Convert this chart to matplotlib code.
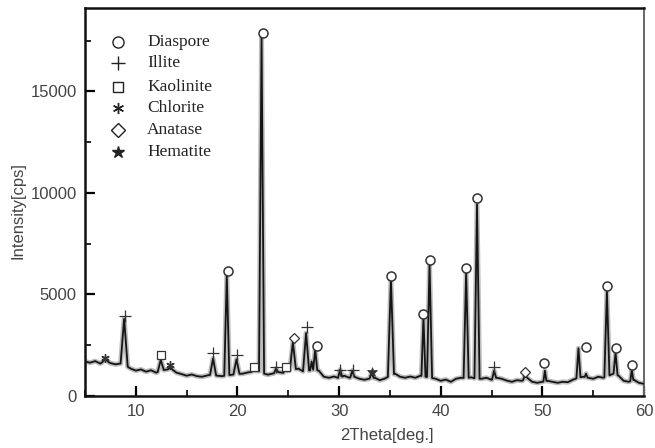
import matplotlib
matplotlib.use("Agg")
import matplotlib.pyplot as plt
import numpy as np

# background of the scan, read every 0.5 deg from 5 to 60
bg_start, bg_step = 5.0, 0.5
bg_counts = [
    1700, 1640, 1720, 1600, 1760, 1620, 1560, 1600, 1500, 1350,   # 5.0 - 9.5
    1250, 1310, 1200, 1270, 1150, 1260, 1300, 1340, 1150, 1080,   # 10.0 - 14.5
    1000, 1060, 980, 950, 1010, 1060, 1000, 980, 1020, 1050,      # 15.0 - 19.5
    1090, 1100, 1160, 1200, 1250, 1120, 1050, 1110, 1180, 1140,   # 20.0 - 24.5
    1250, 1300, 1350, 1200, 1250, 1300, 1250, 950, 900, 960,      # 25.0 - 29.5
    880, 1000, 900, 950, 850, 800, 860, 900, 780, 860,            # 30.0 - 34.5
    1000, 1100, 950, 900, 960, 900, 1000, 950, 900, 850,          # 35.0 - 39.5
    750, 810, 700, 850, 900, 880, 920, 850, 850, 900,             # 40.0 - 44.5
    800, 900, 850, 760, 700, 780, 750, 900, 700, 650,             # 45.0 - 49.5
    700, 750, 700, 650, 700, 680, 800, 900, 950, 900,             # 50.0 - 54.5
    850, 950, 900, 1000, 1100, 1000, 750, 700, 800, 650,          # 55.0 - 59.5
    600,                                                          # 60.0
]

# reflections: position (2theta), top intensity, half width at the foot
peak_pos = [7.0, 8.85, 12.45, 13.4, 17.6, 18.95, 19.9, 21.6, 22.37, 23.8,
            24.7, 25.45, 26.75, 27.3, 27.65, 30.1, 31.3, 33.2, 35.1, 38.3,
            38.9, 42.5, 43.57, 45.25, 48.3, 50.25, 53.55, 54.3, 56.35, 57.2,
            58.8]
peak_int = [1850, 3800, 1780, 1400, 1850, 5950, 1800, 1350, 17650, 1350,
            1300, 2650, 3100, 1700, 2300, 1300, 1250, 1150, 5750, 3900,
            6500, 6100, 9450, 1250, 1050, 1250, 2350, 1100, 5200, 2150,
            1300]
peak_hw = [0.3, 0.35, 0.3, 0.25, 0.3, 0.25, 0.3, 0.2, 0.25, 0.2,
           0.2, 0.3, 0.3, 0.15, 0.2, 0.2, 0.2, 0.2, 0.3, 0.2,
           0.25, 0.25, 0.25, 0.2, 0.2, 0.15, 0.2, 0.15, 0.25, 0.2,
           0.15]

# phase marks (2theta, intensity)
diaspore_x = [19.03, 22.47, 27.84, 35.1, 38.3, 38.9, 42.5, 43.6, 50.2, 54.33, 56.4, 57.2, 58.85]
diaspore_y = [6160, 17870, 2480, 5930, 4040, 6700, 6290, 9740, 1640, 2430, 5430, 2380, 1530]
illite_x = [8.93, 17.62, 19.92, 23.78, 26.8, 30.07, 31.32, 45.25]
illite_y = [3940, 2100, 2020, 1440, 3380, 1280, 1280, 1440]
kaolinite_x = [12.47, 21.62, 24.73]
kaolinite_y = [2020, 1410, 1410]
chlorite_x = [6.97, 13.36]
chlorite_y = [1890, 1530]
anatase_x = [25.55, 48.26]
anatase_y = [2840, 1200]
hematite_x = [33.19]
hematite_y = [1200]

legend_names = ["Diaspore", "Illite", "Kaolinite", "Chlorite", "Anatase", "Hematite"]


def build_pattern():
    bx = bg_start + bg_step * np.arange(len(bg_counts))
    by = np.array(bg_counts, dtype=float)
    keep = np.ones(len(bx), dtype=bool)
    px, py = [], []
    for p, h, w in zip(peak_pos, peak_int, peak_hw):
        keep &= ~((bx > p - w) & (bx < p + w))
        for xx in (p - w, p, p + w):
            px.append(xx)
        py.append(np.interp(p - w, bx, by))
        py.append(h)
        py.append(np.interp(p + w, bx, by))
    x = np.concatenate([bx[keep], px])
    y = np.concatenate([by[keep], py])
    order = np.argsort(x, kind="stable")
    return x[order], y[order]


def main():
    fig = plt.figure(figsize=(6.55, 4.48), dpi=100)
    ax = fig.add_axes([0.1298, 0.116, 0.8534, 0.866])

    x, y = build_pattern()
    # soft grey band under the trace, like the scanned print
    ax.plot(x, y, color="#888888", lw=3.6, alpha=0.55, zorder=2)
    ax.plot(x, y, color="#151515", lw=1.3, zorder=3)

    mk = dict(linestyle="none", color="#333333", zorder=4)
    ax.plot(diaspore_x, diaspore_y, marker="o", ms=6.5, mfc="white", mew=1.1, **mk)
    ax.plot(illite_x, illite_y, marker="+", ms=8.5, mew=0.9, **mk)
    ax.plot(kaolinite_x, kaolinite_y, marker="s", ms=5.5, mfc="white", mew=0.9, **mk)
    ax.plot(chlorite_x, chlorite_y, marker=(6, 2, 0), ms=6, mew=1.0, **mk)
    ax.plot(anatase_x, anatase_y, marker="D", ms=5.5, mfc="white", mew=0.9, **mk)
    ax.plot(hematite_x, hematite_y, marker="*", ms=7, mew=0.5, **mk)

    # legend drawn by hand, no frame
    leg_markers = [("o", 8, "white"), ("+", 10, None), ("s", 7, "white"),
                   ((6, 2, 0), 8, None), ("D", 7, "white"), ("*", 9, None)]
    rows = [0.912, 0.858, 0.797, 0.742, 0.686, 0.629]
    for (m, s, fc), name, yy in zip(leg_markers, legend_names, rows):
        kw = dict(marker=m, ms=s, color="#222222", mew=1.0, linestyle="none",
                  transform=ax.transAxes, clip_on=False)
        if fc:
            kw["mfc"] = fc
        ax.plot([0.059], [yy], **kw)
        ax.text(0.111, yy, name, transform=ax.transAxes, va="center", ha="left",
                family="Liberation Serif", fontsize=12.5, color="#222222")

    ax.set_xlim(5, 60)
    ax.set_ylim(0, 19100)
    ax.set_xticks([10, 20, 30, 40, 50, 60])
    ax.set_xticks(np.arange(5, 60, 5), minor=True)
    ax.set_yticks([0, 5000, 10000, 15000])
    ax.set_yticks(np.arange(0, 19000, 2500), minor=True)
    ax.tick_params(which="major", direction="in", length=7, width=1.6,
                   labelsize=12, labelcolor="#444444", pad=6)
    ax.tick_params(which="minor", direction="in", length=4, width=1.2)
    for lab in ax.get_xticklabels() + ax.get_yticklabels():
        lab.set_family("Liberation Sans")

    ax.set_xlabel("2Theta[deg.]", family="Liberation Sans", fontsize=12,
                  color="#444444")
    ax.set_ylabel("Intensity[cps]", family="Liberation Sans", fontsize=12,
                  color="#444444")
    ax.xaxis.set_label_coords(0.540, -0.082)
    ax.yaxis.set_label_coords(-0.107, 0.479)

    for side in ("left", "bottom", "top"):
        ax.spines[side].set_linewidth(1.8)
        ax.spines[side].set_color("#111111")
    ax.spines["right"].set_linewidth(1.4)
    ax.spines["right"].set_color("#666666")

    fig.savefig("out.png", dpi=100)


if __name__ == "__main__":
    main()
